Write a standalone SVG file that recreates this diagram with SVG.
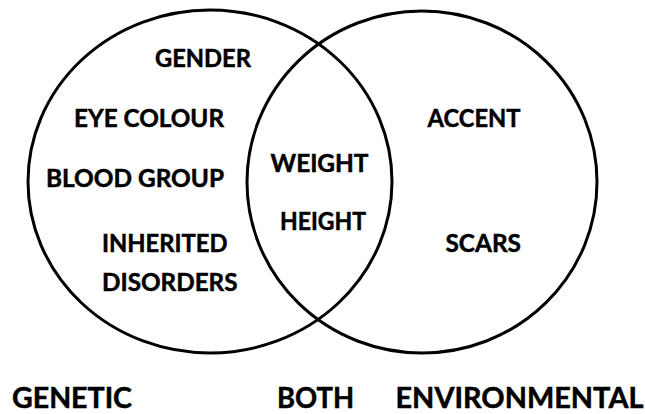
<svg xmlns="http://www.w3.org/2000/svg" width="645" height="414" viewBox="0 0 645 414">
  <style>
    .ring { fill: none; stroke: #000; stroke-width: 3; }
    .lbl { font-family: Lato, "Liberation Sans", sans-serif; font-weight: bold; font-size: 25px; fill: #000; stroke: #000; stroke-width: 0.5; }
    .big { font-size: 29px; }
  </style>
  <rect x="0" y="0" width="645" height="414" fill="#fff"/>
  <g id="genetic">
    <ellipse class="ring" cx="210" cy="181.5" rx="182" ry="171.5"/>
    <text class="lbl" x="155" y="67" textLength="96" lengthAdjust="spacingAndGlyphs">GENDER</text>
    <text class="lbl" x="74" y="126.5" textLength="150" lengthAdjust="spacingAndGlyphs">EYE COLOUR</text>
    <text class="lbl" x="46" y="187" textLength="178" lengthAdjust="spacingAndGlyphs">BLOOD GROUP</text>
    <text class="lbl" x="102" y="252" textLength="125.5" lengthAdjust="spacingAndGlyphs">INHERITED</text>
    <text class="lbl" x="102" y="291" textLength="135.5" lengthAdjust="spacingAndGlyphs">DISORDERS</text>
  </g>
  <g id="environmental">
    <ellipse class="ring" cx="422" cy="182" rx="175" ry="171"/>
    <text class="lbl" x="427.5" y="126.5" textLength="93" lengthAdjust="spacingAndGlyphs">ACCENT</text>
    <text class="lbl" x="445.5" y="252" textLength="75.5" lengthAdjust="spacingAndGlyphs">SCARS</text>
  </g>
  <g id="both">
    <text class="lbl" x="270.5" y="171.5" textLength="98" lengthAdjust="spacingAndGlyphs">WEIGHT</text>
    <text class="lbl" x="280" y="229.5" textLength="86" lengthAdjust="spacingAndGlyphs">HEIGHT</text>
  </g>
  <g id="legend">
    <text class="lbl big" x="12" y="407.5" textLength="120" lengthAdjust="spacingAndGlyphs">GENETIC</text>
    <text class="lbl big" x="277" y="407.5" textLength="77" lengthAdjust="spacingAndGlyphs">BOTH</text>
    <text class="lbl big" x="395.5" y="407.5" textLength="248" lengthAdjust="spacingAndGlyphs">ENVIRONMENTAL</text>
  </g>
  <g id="connectors"/>
</svg>
